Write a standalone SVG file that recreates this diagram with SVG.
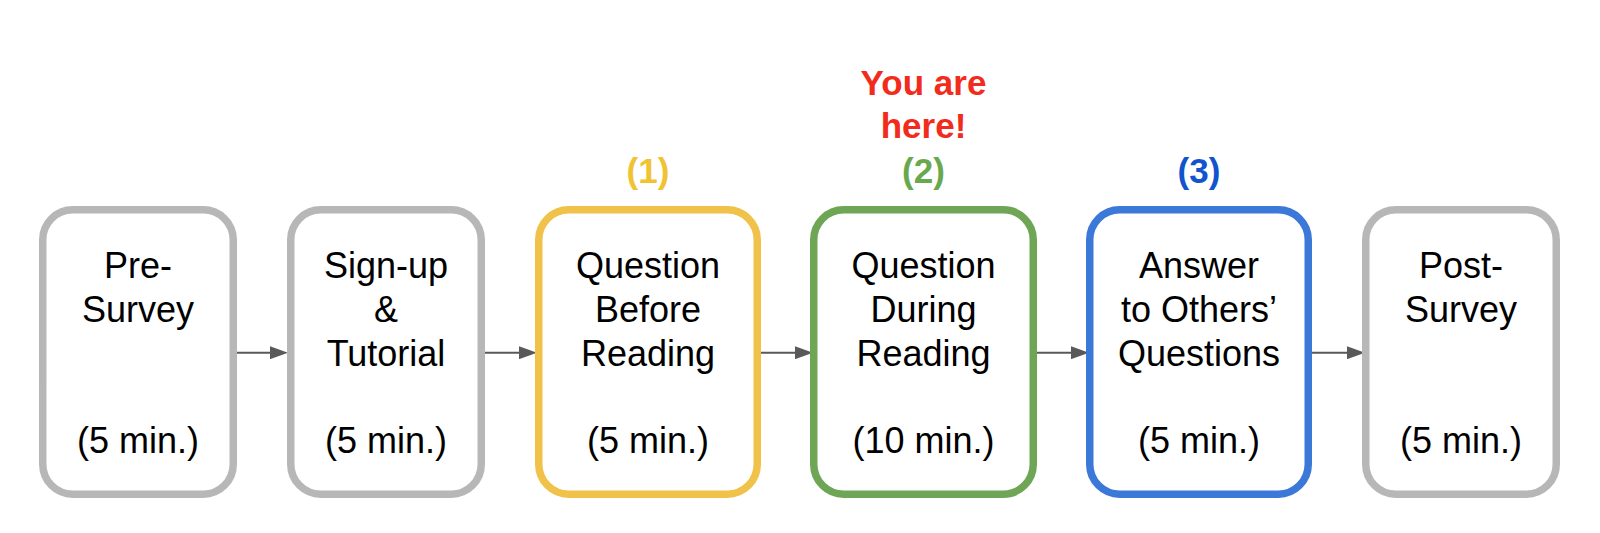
<svg xmlns="http://www.w3.org/2000/svg" width="1600" height="533" viewBox="0 0 1600 533">
  <style>
    .box { fill: #ffffff; stroke-width: 7.5; }
    .gray { stroke: #b7b7b7; }
    .yellow { stroke: #f1c24a; }
    .green { stroke: #6ea656; }
    .blue { stroke: #3c78d8; }
    .t { font-family: "Liberation Sans", Arial, sans-serif; font-size: 36px; fill: #000000; text-anchor: middle; }
    .lab { font-family: "Liberation Sans", Arial, sans-serif; font-size: 35px; font-weight: bold; text-anchor: middle; }
    .conn { stroke: #595959; stroke-width: 2; fill: none; marker-end: url(#arr); }
  </style>
  <defs>
    <marker id="arr" markerUnits="userSpaceOnUse" markerWidth="18" markerHeight="13" refX="9" refY="6.5" orient="auto">
      <path d="M0,0 L18,6.5 L0,13 Z" fill="#595959"/>
    </marker>
  </defs>
  <rect width="1600" height="533" fill="#ffffff"/>

  <g id="connectors">
    <line class="conn" x1="234" y1="352.7" x2="279" y2="352.7"/>
    <line class="conn" x1="482" y1="352.7" x2="528" y2="352.7"/>
    <line class="conn" x1="758" y1="352.7" x2="804" y2="352.7"/>
    <line class="conn" x1="1034" y1="352.7" x2="1080" y2="352.7"/>
    <line class="conn" x1="1309" y1="352.7" x2="1356" y2="352.7"/>
  </g>

  <g id="pre-survey">
    <rect class="box gray" x="42.75" y="209.75" width="190.5" height="284.5" rx="30"/>
    <text class="t" x="138" y="278.3">Pre-</text>
    <text class="t" x="138" y="321.7">Survey</text>
    <text class="t" x="138" y="453.3">(5 min.)</text>
  </g>

  <g id="signup-tutorial">
    <rect class="box gray" x="290.75" y="209.75" width="190.5" height="284.5" rx="30"/>
    <text class="t" x="386" y="278.3">Sign-up</text>
    <text class="t" x="386" y="321.7">&amp;</text>
    <text class="t" x="386" y="365.5">Tutorial</text>
    <text class="t" x="386" y="453.3">(5 min.)</text>
  </g>

  <g id="question-before-reading">
    <text class="lab" x="648" y="182.5" fill="#f1c232">(1)</text>
    <rect class="box yellow" x="538.75" y="209.75" width="218.5" height="284.5" rx="30"/>
    <text class="t" x="648" y="278.3">Question</text>
    <text class="t" x="648" y="321.7">Before</text>
    <text class="t" x="648" y="365.5">Reading</text>
    <text class="t" x="648" y="453.3">(5 min.)</text>
  </g>

  <g id="question-during-reading">
    <text class="lab" x="923.5" y="95" fill="#f22c1c">You are</text>
    <text class="lab" x="923.5" y="138.3" fill="#f22c1c">here!</text>
    <text class="lab" x="923.5" y="182.5" fill="#6aa84f">(2)</text>
    <rect class="box green" x="813.75" y="209.75" width="219.5" height="284.5" rx="30"/>
    <text class="t" x="923.5" y="278.3">Question</text>
    <text class="t" x="923.5" y="321.7">During</text>
    <text class="t" x="923.5" y="365.5">Reading</text>
    <text class="t" x="923.5" y="453.3">(10 min.)</text>
  </g>

  <g id="answer-others-questions">
    <text class="lab" x="1199" y="182.5" fill="#1155cc">(3)</text>
    <rect class="box blue" x="1089.75" y="209.75" width="218.5" height="284.5" rx="30"/>
    <text class="t" x="1199" y="278.3">Answer</text>
    <text class="t" x="1199" y="321.7">to Others’</text>
    <text class="t" x="1199" y="365.5">Questions</text>
    <text class="t" x="1199" y="453.3">(5 min.)</text>
  </g>

  <g id="post-survey">
    <rect class="box gray" x="1365.75" y="209.75" width="190.5" height="284.5" rx="30"/>
    <text class="t" x="1461" y="278.3">Post-</text>
    <text class="t" x="1461" y="321.7">Survey</text>
    <text class="t" x="1461" y="453.3">(5 min.)</text>
  </g>
</svg>
